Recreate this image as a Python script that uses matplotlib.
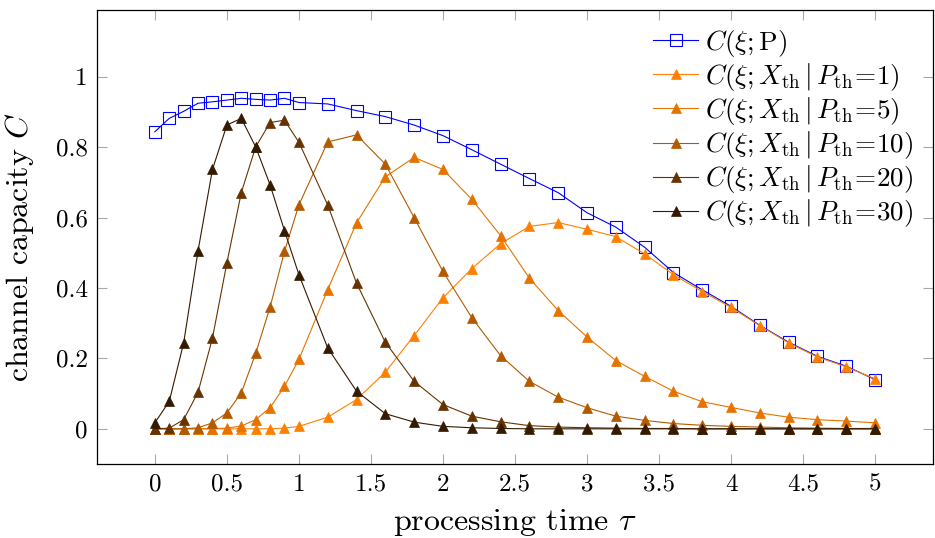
import matplotlib
matplotlib.use("Agg")
import matplotlib.pyplot as plt

# -- Data ----------------------------------------------------------------------
tau = [0.0, 0.1, 0.2, 0.3, 0.4, 0.5, 0.6, 0.7, 0.8, 0.9, 1.0,
       1.2, 1.4, 1.6, 1.8, 2.0, 2.2, 2.4, 2.6, 2.8, 3.0,
       3.2, 3.4, 3.6, 3.8, 4.0, 4.2, 4.4, 4.6, 4.8, 5.0]

c_p = [0.844, 0.882, 0.902, 0.925, 0.929, 0.934, 0.939, 0.936, 0.934, 0.939, 0.927,
       0.923, 0.904, 0.887, 0.863, 0.833, 0.793, 0.752, 0.711, 0.671, 0.614,
       0.573, 0.516, 0.444, 0.395, 0.348, 0.294, 0.246, 0.206, 0.178, 0.140]

c_pth1 = [0.0, 0.0, 0.0, 0.0, 0.0, 0.0, 0.0, 0.0, 0.0, 0.002, 0.007,
          0.033, 0.083, 0.161, 0.265, 0.372, 0.455, 0.526, 0.575, 0.586, 0.567,
          0.546, 0.497, 0.438, 0.390, 0.345, 0.293, 0.244, 0.204, 0.176, 0.142]

c_pth5 = [0.0, 0.0, 0.0, 0.0, 0.0, 0.002, 0.008, 0.026, 0.060, 0.121, 0.197,
          0.395, 0.585, 0.716, 0.771, 0.737, 0.652, 0.549, 0.428, 0.336, 0.261,
          0.194, 0.149, 0.107, 0.077, 0.061, 0.045, 0.033, 0.026, 0.022, 0.017]

c_pth10 = [0.0, 0.0, 0.0, 0.003, 0.017, 0.045, 0.102, 0.214, 0.346, 0.504, 0.636,
           0.815, 0.835, 0.752, 0.600, 0.447, 0.316, 0.208, 0.135, 0.090, 0.060,
           0.036, 0.024, 0.015, 0.010, 0.007, 0.005, 0.003, 0.002, 0.001, 0.001]

c_pth20 = [0.0, 0.002, 0.026, 0.104, 0.258, 0.471, 0.671, 0.801, 0.870, 0.877, 0.814,
           0.636, 0.414, 0.246, 0.135, 0.069, 0.036, 0.020, 0.009, 0.005, 0.003,
           0.002, 0.001, 0.001, 0.0, 0.0, 0.0, 0.0, 0.0, 0.0, 0.0]

c_pth30 = [0.017, 0.078, 0.244, 0.506, 0.737, 0.863, 0.882, 0.801, 0.693, 0.563, 0.438,
           0.230, 0.107, 0.043, 0.019, 0.007, 0.003, 0.001, 0.0, 0.0, 0.0,
           0.0, 0.0, 0.0, 0.0, 0.0, 0.0, 0.0, 0.0, 0.0, 0.0]

pth_values = ["1", "5", "10", "20", "30"]
pth_series = [c_pth1, c_pth5, c_pth10, c_pth20, c_pth30]

xticks = [0, 0.5, 1, 1.5, 2, 2.5, 3, 3.5, 4, 4.5, 5]
xticklabels = ["0", "0.5", "1", "1.5", "2", "2.5", "3", "3.5", "4", "4.5", "5"]
yticks = [0, 0.2, 0.4, 0.6, 0.8, 1]
yticklabels = ["0", "0.2", "0.4", "0.6", "0.8", "1"]

# orange mixed with black, light to dark
pth_colors = ["#ff8000", "#e67300", "#b35a00", "#663300", "#331a00"]

# -- Style ---------------------------------------------------------------------
plt.rcParams["font.family"] = "serif"
plt.rcParams["font.serif"] = ["cmr10"]
plt.rcParams["mathtext.fontset"] = "cm"
plt.rcParams["axes.formatter.use_mathtext"] = True

fig = plt.figure(figsize=(9.35, 5.38), dpi=100)
ax = fig.add_axes([0.104, 0.1375, 0.8935, 0.844])

ax.plot(tau, c_p, color="blue", linewidth=0.8, marker="s", markersize=8,
        markerfacecolor="none", markeredgewidth=0.8, label=r"$C(\xi;\mathrm{P})$")
for vals, pth, col in zip(pth_series, pth_values, pth_colors):
    ax.plot(tau, vals, color=col, linewidth=0.8, marker="^", markersize=7,
            markeredgewidth=0.5,
            label=r"$C(\xi;X_{\mathrm{th}}\,|\,P_{\mathrm{th}}\!=\!%s)$" % pth)

ax.set_xlim(-0.4, 5.4)
ax.set_ylim(-0.1, 1.19)
ax.set_xticks(xticks)
ax.set_xticklabels(xticklabels)
ax.set_yticks(yticks)
ax.set_yticklabels(yticklabels)
ax.tick_params(direction="in", length=7.5, width=0.8, color="#a8a8a8",
               top=True, right=True, labelsize=18, pad=7)
for sp in ax.spines.values():
    sp.set_linewidth(0.9)

ax.set_xlabel(r"processing time $\tau$", fontsize=23, labelpad=8)
ax.set_ylabel(r"channel capacity $C$", fontsize=23)
ax.yaxis.set_label_coords(-0.073, 0.478)

ax.legend(loc="upper right", bbox_to_anchor=(0.99, 0.985), frameon=False,
          fontsize=19.5, handlelength=1.66, handletextpad=0.26, labelspacing=0.08,
          borderaxespad=0.0)

fig.savefig("out.png", dpi=100)
